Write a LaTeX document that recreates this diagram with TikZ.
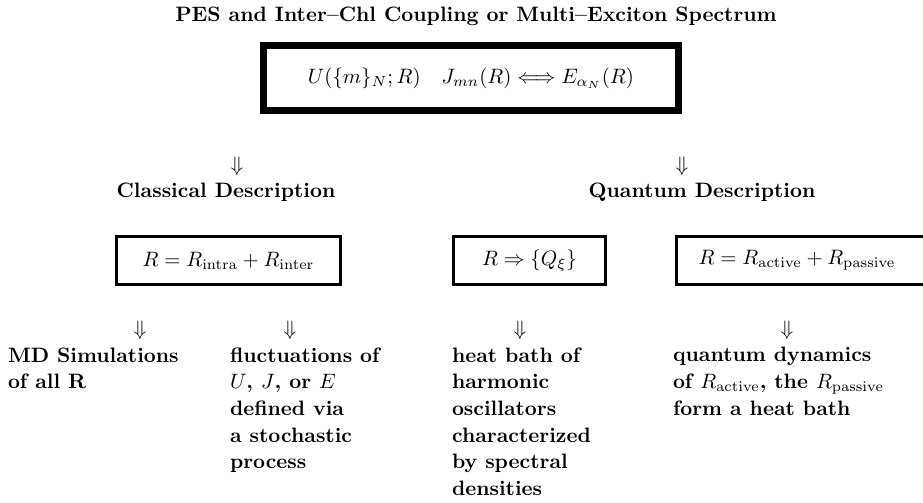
\documentclass[tikz,border=0pt]{standalone}
\begin{document}
\begin{tikzpicture}[x=0.48pt,y=-0.48pt,
  every node/.style={font=\fontsize{10}{12.8}\selectfont\bfseries, inner sep=0pt, outer sep=0pt},
  bigbox/.style={draw, line width=3.1pt, minimum width=199.4pt, minimum height=31.4pt},
  smallbox/.style={draw, line width=1.44pt, minimum height=23pt},
  arrowglyph/.style={font=\fontsize{10}{12.8}\selectfont},
  heading/.style={anchor=base},
  leaf/.style={anchor=north west, align=left}]
\useasboundingbox (0,0) rectangle (923,502);
\clip (0,0) rectangle (923,502);
\fill[white] (0,0) rectangle (923,502);
\node[heading] (title) at (476,21) {PES and Inter--Chl Coupling or Multi--Exciton Spectrum};
\node[bigbox] (top) at (471,78) {$U(\{m\}_N;R)\quad J_{mn}(R)\Longleftrightarrow E_{\alpha_N}(R)$};
\node[arrowglyph] (arrC) at (237,166) {$\Downarrow$};
\node[arrowglyph] (arrQ) at (682,166) {$\Downarrow$};
\node[heading] (classical) at (226,197) {Classical Description};
\node[heading] (quantum) at (702,197) {Quantum Description};
\node[smallbox, minimum width=107.5pt] (boxA) at (228.5,260.5) {$R=R_{\mathrm{intra}}+R_{\mathrm{inter}}$};
\node[smallbox, minimum width=73pt] (boxB) at (529.5,260.5) {$R\Rightarrow\{Q_\xi\}$};
\node[smallbox, minimum width=131.3pt] (boxC) at (813.25,260.5) {};
\node (boxCtext) at (797,260.5) {$R=R_{\mathrm{active}}+R_{\mathrm{passive}}$};
\node[arrowglyph] (arr1) at (140,330) {$\Downarrow$};
\node[arrowglyph] (arr2) at (290,330) {$\Downarrow$};
\node[arrowglyph] (arr3) at (520,330) {$\Downarrow$};
\node[arrowglyph] (arr4) at (787,330) {$\Downarrow$};
\node[leaf] (txt1) at (8,347.5) {MD Simulations\\of all R};
\node[leaf] (txt2) at (230,347.5) {fluctuations of\\$U$, $J$, or $E$\\defined via\\a stochastic\\process};
\node[leaf] (txt3) at (452,347.5) {heat bath of\\harmonic\\oscillators\\characterized\\by spectral\\densities};
\node[leaf] (txt4) at (673,347.5) {quantum dynamics\\of $R_{\mathrm{active}}$, the $R_{\mathrm{passive}}$\\form a heat bath};
\end{tikzpicture}
\end{document}
